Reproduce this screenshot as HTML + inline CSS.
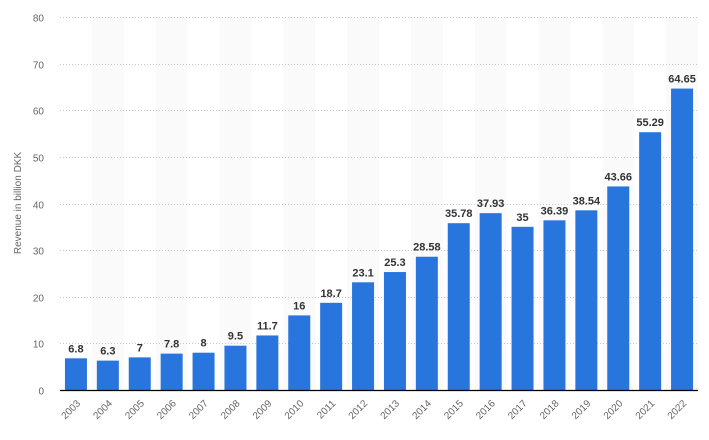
<!DOCTYPE html>
<html><head><meta charset="utf-8"><style>
body{margin:0;background:#fff;}
svg{display:block;font-family:"Liberation Sans",sans-serif;}
</style></head><body>
<svg id="chart" width="709" height="440" viewBox="0 0 709 440">
<g id="bands"></g><g id="grid"></g><g id="bars"></g><g id="labels"></g><g id="xticks"></g><g id="yticks"></g>
<line x1="60" y1="390.5" x2="698" y2="390.5" stroke="#000" stroke-width="1.2"/>
<text transform="translate(21,203) rotate(-90)" text-anchor="middle" font-size="10" fill="#666">Revenue in billion DKK</text>
</svg>
<script>
const categories=["2003","2004","2005","2006","2007","2008","2009","2010","2011","2012","2013","2014","2015","2016","2017","2018","2019","2020","2021","2022"];
const values=[6.8,6.3,7,7.8,8,9.5,11.7,16,18.7,23.1,25.3,28.58,35.78,37.93,35,36.39,38.54,43.66,55.29,64.65];
const valueLabels=["6.8","6.3","7","7.8","8","9.5","11.7","16","18.7","23.1","25.3","28.58","35.78","37.93","35","36.39","38.54","43.66","55.29","64.65"];
const yTicks=[0,10,20,30,40,50,60,70,80];
const NS="http://www.w3.org/2000/svg";
const x0=60,x1=698,y0=390,yTop=17,ymax=80;
const step=(x1-x0)/categories.length;
const bw=22;
const ys=v=>y0-(v/ymax)*(y0-yTop);
const xs=i=>x0+i*step;
function mk(tag,attrs,parent){const e=document.createElementNS(NS,tag);for(const k in attrs)e.setAttribute(k,attrs[k]);document.getElementById(parent).appendChild(e);return e;}
categories.forEach((c,i)=>{
  if(i%2===1){const b=mk('rect',{x:xs(i),y:yTop,width:step,height:y0-yTop,fill:'#fafafa'},'bands');
    
    }
});
yTicks.forEach(t=>{
  const y=Math.round(ys(t))+0.5;
  if(t>0){const l=mk('line',{x1:x0,x2:x1,y1:y,y2:y,stroke:'#c8c8c8','stroke-dasharray':'1,2'},'grid');
    
    }
  const tx=mk('text',{x:44,y:y+4,'text-anchor':'end','font-size':'10',fill:'#666'},'yticks');
  tx.textContent=t;
  
  
});
categories.forEach((c,i)=>{
  const cx=xs(i)+step/2;
  const r=mk('rect',{x:cx-bw/2,y:ys(values[i]),width:bw,height:y0-ys(values[i]),fill:'#2876dd'},'bars');
  
  
  const lb=mk('text',{x:cx,y:ys(values[i])-6,'text-anchor':'middle','font-size':'11','font-weight':'bold',fill:'#333'},'labels');
  lb.textContent=valueLabels[i];
  
  
  const xt=mk('text',{transform:`translate(${cx+5},${y0+14}) rotate(-45)`,'text-anchor':'end','font-size':'10',fill:'#666'},'xticks');
  xt.textContent=c;
  
  
});
</script>
</body></html>
